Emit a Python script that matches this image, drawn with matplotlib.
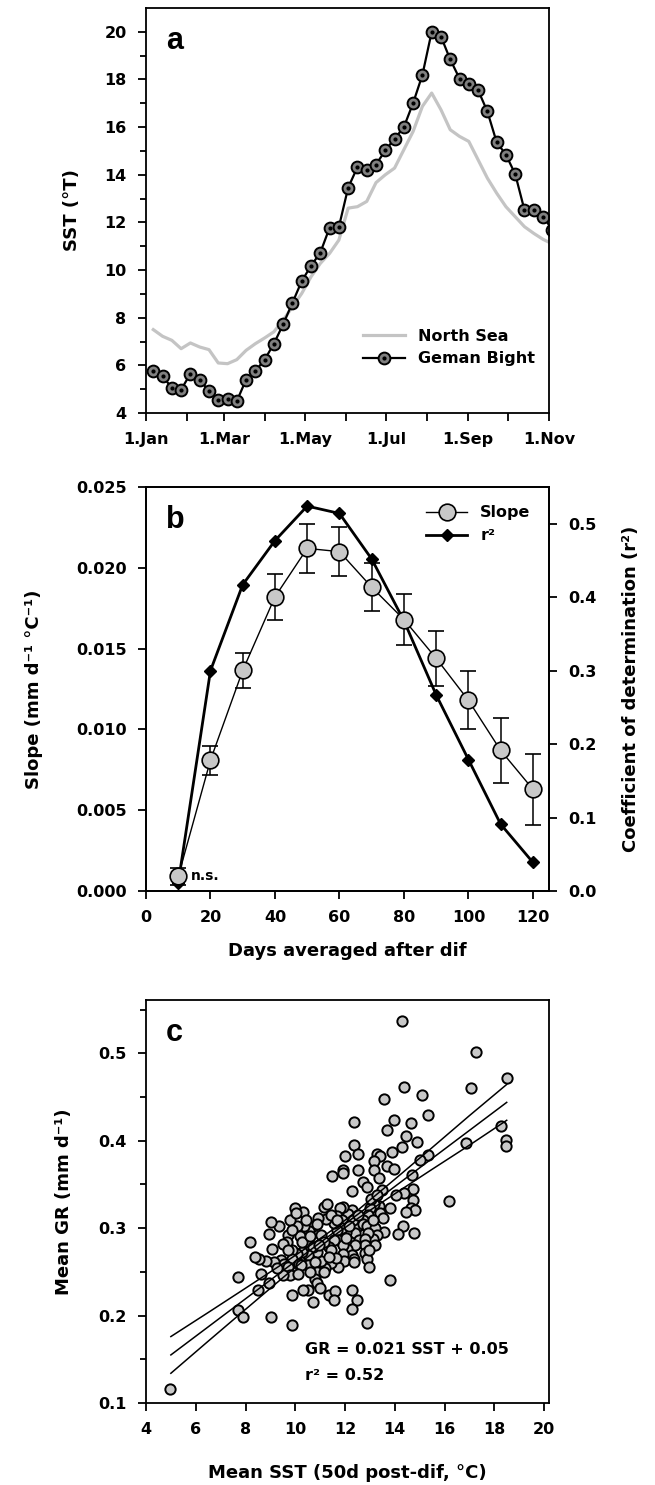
import numpy as np
import matplotlib
matplotlib.use("Agg")
import matplotlib.pyplot as plt

plt.rcParams['font.family'] = ['DejaVu Sans']
plt.rcParams['font.weight'] = 'bold'
plt.rcParams['axes.labelweight'] = 'bold'
plt.rcParams['axes.linewidth'] = 1.3

# panel a: weekly SST
week_day = [5.5 + 7 * k for k in range(44)]
sst_gb = [5.76, 5.54, 5.06, 4.98, 5.65, 5.40, 4.92, 4.56, 4.59, 4.50,
          5.40, 5.76, 6.24, 6.91, 7.73, 8.63, 9.54, 10.18, 10.73, 11.78,
          11.81, 13.46, 14.32, 14.21, 14.43, 15.02, 15.51, 16.00, 17.01, 18.19,
          20.00, 19.80, 18.84, 18.04, 17.81, 17.55, 16.66, 15.37, 14.84, 14.03,
          12.52, 12.52, 12.24, 11.70]
sst_ns = [7.50, 7.22, 7.05, 6.70, 6.94, 6.77, 6.66, 6.10, 6.07, 6.24,
          6.63, 6.91, 7.15, 7.41, 7.90, 8.46, 9.02, 9.72, 10.28, 10.70,
          11.26, 12.60, 12.66, 12.88, 13.67, 14.00, 14.28, 15.05, 15.82, 16.87,
          17.43, 16.73, 15.89, 15.61, 15.40, 14.63, 13.86, 13.23, 12.66, 12.24,
          11.82, 11.54, 11.29, 11.10]
month_start = [0, 31, 59, 90, 120, 151, 181, 212, 243, 273, 304]
month_labels = ['1.Jan', '', '1.Mar', '', '1.May', '', '1.Jul', '', '1.Sep', '', '1.Nov']

# panel b
days_avg = [10, 20, 30, 40, 50, 60, 70, 80, 90, 100, 110, 120]
slope = [0.0009, 0.0081, 0.01365, 0.0182, 0.0212, 0.0210, 0.0188, 0.0168, 0.0144, 0.0118, 0.0087, 0.0063]
slope_err = [0.0005, 0.0009, 0.0011, 0.0014, 0.0015, 0.0015, 0.0015, 0.0016, 0.0017, 0.0018, 0.0020, 0.0022]
r2 = [0.011, 0.300, 0.417, 0.477, 0.524, 0.514, 0.452, 0.368, 0.267, 0.179, 0.091, 0.039]

# panel c: scatter
mean_sst = [14.30, 17.27, 18.52, 14.39, 17.07, 13.58, 15.11, 15.34, 12.38, 13.97,
            14.64, 13.67, 14.47, 18.27, 18.49, 18.49, 16.86, 14.89, 14.30, 12.38,
            12.54, 12.00, 15.34, 15.00, 13.88, 13.30, 13.42, 13.18, 13.68, 13.96,
            12.54, 11.90, 11.90, 11.49, 13.16, 14.69, 13.36, 12.71, 12.88, 12.30,
            13.48, 14.75, 14.39, 16.18, 14.72, 14.64, 14.81, 14.47, 14.78, 14.35,
            14.14, 13.55, 13.80, 13.36, 13.42, 13.52, 13.18, 13.00, 13.05, 13.30,
            12.94, 12.72, 12.54, 12.71, 12.30, 12.14, 11.92, 11.80, 11.68, 11.88,
            12.34, 12.87, 13.20, 13.30, 13.13, 12.91, 12.39, 12.56, 12.80, 13.21,
            12.81, 12.79, 12.39, 12.09, 12.27, 12.36, 12.87, 12.96, 12.04, 11.87,
            11.68, 11.54, 11.25, 11.71, 11.93, 11.54, 11.36, 11.45, 11.93, 11.96,
            11.71, 11.45, 11.20, 11.04, 10.87, 11.04, 11.17, 11.17, 11.29, 10.92,
            10.73, 10.57, 10.37, 10.06, 10.33, 10.00, 10.20, 10.53, 10.73, 10.53,
            10.28, 10.06, 9.86, 9.86, 10.17, 10.53, 10.78, 10.87, 10.78, 10.87,
            11.17, 11.00, 10.50, 10.33, 9.86, 10.70, 11.37, 11.59, 11.54, 12.30,
            12.47, 12.30, 12.89, 9.86, 9.03, 10.23, 9.70, 9.66, 9.77, 9.36,
            9.03, 8.94, 9.49, 9.70, 9.44, 9.16, 9.56, 9.70, 9.77, 9.52,
            9.27, 8.94, 8.82, 8.56, 8.39, 8.61, 8.49, 8.19, 7.69, 7.69,
            7.90, 4.97, 9.06, 10.03, 10.45, 9.86, 10.87, 11.42, 11.68, 11.62,
            10.28, 10.61, 12.04, 12.54, 12.17, 12.96, 10.95, 11.37, 10.61, 10.11,
            12.36, 13.13, 13.80, 14.05]
mean_gr = [0.537, 0.502, 0.472, 0.462, 0.460, 0.448, 0.452, 0.429, 0.421, 0.424,
           0.420, 0.412, 0.405, 0.417, 0.401, 0.394, 0.397, 0.398, 0.393, 0.395,
           0.385, 0.382, 0.384, 0.378, 0.387, 0.385, 0.382, 0.377, 0.371, 0.368,
           0.366, 0.367, 0.363, 0.360, 0.366, 0.361, 0.357, 0.353, 0.347, 0.343,
           0.344, 0.345, 0.340, 0.331, 0.332, 0.323, 0.321, 0.318, 0.294, 0.302,
           0.293, 0.296, 0.241, 0.325, 0.317, 0.312, 0.328, 0.323, 0.333, 0.338,
           0.315, 0.309, 0.302, 0.305, 0.321, 0.316, 0.324, 0.323, 0.314, 0.309,
           0.309, 0.302, 0.300, 0.292, 0.288, 0.295, 0.294, 0.286, 0.288, 0.281,
           0.281, 0.272, 0.281, 0.276, 0.269, 0.265, 0.265, 0.256, 0.296, 0.300,
           0.298, 0.306, 0.310, 0.286, 0.281, 0.286, 0.279, 0.275, 0.271, 0.263,
           0.256, 0.260, 0.254, 0.263, 0.273, 0.292, 0.284, 0.324, 0.328, 0.312,
           0.302, 0.297, 0.303, 0.302, 0.318, 0.323, 0.291, 0.284, 0.279, 0.269,
           0.273, 0.271, 0.275, 0.265, 0.259, 0.258, 0.261, 0.250, 0.242, 0.237,
           0.250, 0.231, 0.229, 0.229, 0.223, 0.215, 0.223, 0.228, 0.218, 0.229,
           0.218, 0.208, 0.192, 0.189, 0.198, 0.258, 0.292, 0.284, 0.309, 0.302,
           0.307, 0.293, 0.282, 0.275, 0.264, 0.261, 0.259, 0.256, 0.246, 0.246,
           0.254, 0.237, 0.263, 0.265, 0.267, 0.248, 0.229, 0.284, 0.244, 0.206,
           0.198, 0.116, 0.276, 0.317, 0.309, 0.298, 0.305, 0.315, 0.309, 0.266,
           0.284, 0.291, 0.289, 0.315, 0.303, 0.275, 0.281, 0.267, 0.250, 0.248,
           0.261, 0.309, 0.323, 0.338]

fit_slope = 0.0214
fit_icept = 0.048
band_x = [5.0, 6.5, 8.0, 9.5, 11.0, 11.7, 12.5, 14.0, 15.5, 17.0, 18.5]
band_hw = [0.021, 0.0164, 0.0121, 0.008, 0.0046, 0.004, 0.0047, 0.0083, 0.0124, 0.0169, 0.0205]

fig = plt.figure(figsize=(6.55, 14.85), dpi=100)
left, width = 146 / 655, 403 / 655
H = 1485

def place(top, bottom):
    return [left, 1 - bottom / H, width, (bottom - top) / H]

tick_kw = dict(direction='out', width=1.3, labelsize=11.5)
lab_fs = 13

# ---- a
ax = fig.add_axes(place(8, 413))
ax.plot(week_day, sst_ns, color='#c4c4c4', lw=2.3)
l1, = ax.plot(week_day, sst_gb, color='black', lw=1.6, marker='o', ms=8.5,
              mfc='#808080', mec='black', mew=1.4)
l2, = ax.plot(week_day, sst_gb, ls='none', marker='o', ms=2, color='black')
ax.set_xlim(0, 304)
ax.set_ylim(4, 21)
ax.set_xticks(month_start)
ax.set_xticklabels(month_labels)
ax.set_yticks(range(4, 21, 2))
ax.set_yticks(range(5, 21, 2), minor=True)
ax.tick_params(which='major', length=6, pad=8, **tick_kw)
ax.tick_params(which='minor', length=4, direction='out', width=1.3)
ax.set_ylabel('SST (°T)', fontsize=lab_fs, labelpad=17)
ax.text(0.05, 0.955, 'a', transform=ax.transAxes, fontsize=22, family='Liberation Sans',
        weight='bold', va='top')
ns_h = plt.Line2D([], [], color='#c4c4c4', lw=2.3)
ax.legend([ns_h, (l1, l2)], ['North Sea', 'Geman Bight'], loc='lower right',
          bbox_to_anchor=(1.0, 0.08), frameon=False, fontsize=11.5, handlelength=2.6,
          labelspacing=0.45)

# ---- b
ax = fig.add_axes(place(487, 891))
ax2 = ax.twinx()
ax.errorbar(days_avg, slope, yerr=slope_err, color='black', lw=1.0, marker='o', ms=12,
            mfc='#c8c8c8', mec='black', mew=1.2, capsize=6, elinewidth=1.1, capthick=1.1,
            zorder=3)
ax2.plot(days_avg, r2, color='black', lw=2.0, marker='D', ms=6, zorder=4)
ax.set_zorder(ax2.get_zorder() + 1)
ax.patch.set_visible(False)
ax.set_xlim(0, 125)
ax.set_ylim(0, 0.025)
ax2.set_ylim(0, 0.55)
ax.set_xticks(range(0, 121, 20))
ax.set_yticks(np.arange(0, 0.0251, 0.005))
ax.set_yticklabels(['%.3f' % v for v in np.arange(0, 0.0251, 0.005)])
ax2.set_yticks(np.arange(0, 0.51, 0.1))
ax2.set_yticklabels(['%.1f' % v for v in np.arange(0, 0.51, 0.1)])
ax.tick_params(length=6, pad=8, **tick_kw)
ax2.tick_params(length=6, pad=8, **tick_kw)
ax.set_xlabel('Days averaged after dif', fontsize=lab_fs, labelpad=12)
ax.set_ylabel('Slope (mm d⁻¹ °C⁻¹)', fontsize=lab_fs, labelpad=24)
ax2.set_ylabel('Coefficient of determination (r²)', fontsize=lab_fs, labelpad=18)
ax.text(14, 0.00093, 'n.s.', fontsize=10, va='center')
ax.text(0.05, 0.955, 'b', transform=ax.transAxes, fontsize=22, family='Liberation Sans',
        weight='bold', va='top')
sl_h = plt.Line2D([], [], color='black', lw=1.0, marker='o', ms=12, mfc='#c8c8c8', mec='black', mew=1.2)
r2_h = plt.Line2D([], [], color='black', lw=2.0, marker='D', ms=6)
ax.legend([sl_h, r2_h], ['Slope', 'r²'], loc='upper right', bbox_to_anchor=(0.99, 0.99),
          frameon=False, fontsize=11.5, handlelength=2.6, labelspacing=0.5)

# ---- c
ax = fig.add_axes(place(1000, 1403))
ax.scatter(mean_sst, mean_gr, s=55, c='#c8c8c8', edgecolors='black', linewidths=1.4, zorder=2)
bx = np.array(band_x)
fit = fit_slope * bx + fit_icept
ax.plot(bx, fit, color='black', lw=1.1, zorder=3)
ax.plot(bx, fit + np.array(band_hw), color='black', lw=1.1, zorder=3)
ax.plot(bx, fit - np.array(band_hw), color='black', lw=1.1, zorder=3)
ax.set_xlim(4, 20.2)
ax.set_ylim(0.1, 0.561)
ax.set_xticks(range(4, 21, 2))
ax.set_yticks([0.1, 0.2, 0.3, 0.4, 0.5])
ax.set_yticklabels(['0.1', '0.2', '0.3', '0.4', '0.5'])
ax.set_yticks([0.15, 0.25, 0.35, 0.45, 0.55], minor=True)
ax.tick_params(which='major', length=6, pad=8, **tick_kw)
ax.tick_params(which='minor', length=4, direction='out', width=1.3)
ax.set_xlabel('Mean SST (50d post-dif, °C)', fontsize=lab_fs, labelpad=19)
ax.set_ylabel('Mean GR (mm d⁻¹)', fontsize=lab_fs, labelpad=18)
ax.text(10.4, 0.161, 'GR = 0.021 SST + 0.05', fontsize=11.5, va='center')
ax.text(10.4, 0.132, 'r² = 0.52', fontsize=11.5, va='center')
ax.text(0.05, 0.955, 'c', transform=ax.transAxes, fontsize=22, family='Liberation Sans',
        weight='bold', va='top')

fig.savefig('out.png', dpi=100)
